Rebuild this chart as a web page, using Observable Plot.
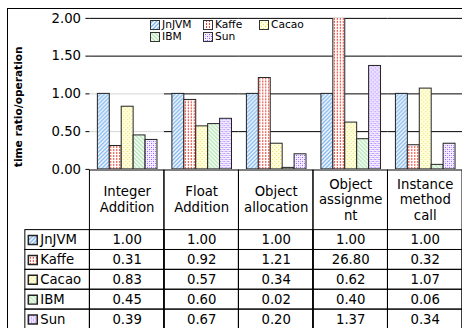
<!DOCTYPE html>
<html><head><meta charset="utf-8">
<script src="https://cdn.jsdelivr.net/npm/d3@7"></script>
<script src="https://cdn.jsdelivr.net/npm/@observablehq/plot@0.6"></script>
<style>
html,body{margin:0;padding:0;background:#fff;}
#root{position:relative;width:462px;height:328px;overflow:hidden;font-family:Verdana,"DejaVu Sans",sans-serif;color:#000;}
#border{position:absolute;left:7px;top:8px;width:520px;height:400px;border:1px solid #000;box-sizing:border-box;}
#chart{position:absolute;left:0;top:0;}
#table{position:absolute;left:0;top:170px;}
#legend{position:absolute;left:146px;top:19px;width:161px;height:26px;background:#fff;font-size:10.67px;line-height:12px;}
#legend .item{position:absolute;display:flex;align-items:center;height:12px;white-space:nowrap;}
#legend svg{margin-right:2px;}
svg text{fill:#000;}
</style></head>
<body><div id="root">
<svg width="0" height="0" style="position:absolute">
<defs>
<pattern id="p-jnjvm" patternUnits="userSpaceOnUse" width="4" height="4">
<rect width="4" height="4" fill="#fff"/>
<path d="M-1,1 l2,-2 M0,4 l4,-4 M3,5 l2,-2" stroke="#7db4ee" stroke-width="1.4"/>
</pattern>
<pattern id="p-kaffe" patternUnits="userSpaceOnUse" width="3" height="3">
<rect width="3" height="3" fill="#fff"/>
<rect x="0" y="0" width="1" height="2" fill="#f03a2a"/>
</pattern>
<pattern id="p-cacao" patternUnits="userSpaceOnUse" width="4" height="4">
<rect width="4" height="4" fill="#ffffdc"/>
<rect x="0" y="0" width="1" height="1" fill="#e9dc6a"/>
<rect x="2" y="2" width="1" height="1" fill="#e9dc6a"/>
</pattern>
<pattern id="p-ibm" patternUnits="userSpaceOnUse" width="4" height="4">
<rect width="4" height="4" fill="#fff"/>
<path d="M-1,3 l2,2 M0,0 l4,4 M3,-1 l2,2" stroke="#b4e6b4" stroke-width="1.4"/>
</pattern>
<pattern id="p-sun" patternUnits="userSpaceOnUse" width="4" height="4">
<rect width="4" height="4" fill="#f6f0ff"/>
<rect x="0" y="0" width="1" height="1" fill="#8c55ff"/>
<rect x="2" y="2" width="1" height="1" fill="#8c55ff"/>
<rect x="2" y="0" width="1" height="1" fill="#c6aaff"/>
<rect x="0" y="2" width="1" height="1" fill="#c6aaff"/>
</pattern>
</defs>
</svg>
<div id="border"></div>
<div id="chart"></div>
<div id="table"></div>
<div id="legend"></div>
</div>
<script>
const categories = ["Integer Addition", "Float Addition", "Object allocation", "Object assignment", "Instance method call"];
const categoryLabels = ["Integer\nAddition", "Float\nAddition", "Object\nallocation", "Object\nassignme\nnt", "Instance\nmethod\ncall"];
const series = ["JnJVM", "Kaffe", "Cacao", "IBM", "Sun"];
const jnjvm = [1.00, 1.00, 1.00, 1.00, 1.00];
const kaffe = [0.31, 0.92, 1.21, 26.80, 0.32];
const cacao = [0.83, 0.57, 0.34, 0.62, 1.07];
const ibm = [0.45, 0.60, 0.02, 0.40, 0.06];
const sun = [0.39, 0.67, 0.20, 1.37, 0.34];
const yTicks = [0, 0.5, 1, 1.5, 2];
const yTitle = "time ratio/operation";

const seriesValues = [jnjvm, kaffe, cacao, ibm, sun];
const patternOf = {JnJVM: "url(#p-jnjvm)", Kaffe: "url(#p-kaffe)", Cacao: "url(#p-cacao)", IBM: "url(#p-ibm)", Sun: "url(#p-sun)"};
const data = categories.flatMap((c, i) => series.map((s, j) => ({cat: c, series: s, value: seriesValues[j][i]})));
const grid = categories.flatMap((c, i) => yTicks.filter(t => t > 0).map(t => ({cat: c, t, light: i === 0 && t <= 1})));
const font = 'Verdana, "DejaVu Sans", sans-serif';

const chart = Plot.plot({
  width: 465, height: 171,
  marginTop: 18, marginRight: 0, marginBottom: 1, marginLeft: 90,
  fx: {domain: categories, padding: 0, axis: null, label: null},
  x: {domain: series, paddingInner: 0, paddingOuter: 0.625, axis: null},
  y: {domain: [0, 2], axis: null},
  color: {type: "identity"},
  style: {fontFamily: font, fontSize: "13.33px", color: "#000", background: "transparent", overflow: "visible"},
  marks: [
    Plot.ruleY(grid, {fx: "cat", y: "t", stroke: d => d.light ? "#d4d4d4" : "#000"}),
    Plot.barY(data, {fx: "cat", x: "series", y: "value", fill: d => patternOf[d.series], stroke: "#222", strokeWidth: 1, clip: true}),
    Plot.axisY({ticks: yTicks, tickFormat: d3.format(".2f"), tickSize: 4, tickPadding: 5, line: true, label: null, fontSize: 13.33}),
    Plot.text([{cat: categories[0], t: yTitle}], {fx: "cat", text: "t", frameAnchor: "left", textAnchor: "middle", rotate: -90, dx: -76, dy: 13, lineAnchor: "top", fontWeight: "bold", fontSize: 10.67})
  ]
});
document.getElementById("chart").appendChild(chart);

const table = Plot.plot({
  width: 465, height: 161,
  marginTop: 59, marginBottom: 0, marginLeft: 15, marginRight: 0,
  x: {domain: ["", ...categories], paddingInner: 0, paddingOuter: 0, axis: null},
  y: {domain: series, paddingInner: 0, paddingOuter: 0, axis: null},
  color: {type: "identity"},
  style: {fontFamily: font, fontSize: "13.33px", color: "#000", background: "transparent", overflow: "visible"},
  marks: [
    Plot.cell(categories, {x: d => d, fill: "none", stroke: "#000", insetTop: -59}),
    Plot.cell(data, {x: "cat", y: "series", fill: "none", stroke: "#000"}),
    Plot.cell(series, {x: () => "", y: d => d, fill: "none", stroke: "#000", insetLeft: 10}),
    Plot.text(categories, {x: d => d, text: (d, i) => categoryLabels[i], frameAnchor: "top", dy: -30, lineAnchor: "middle", lineHeight: 1.2}),
    Plot.text(data, {x: "cat", y: "series", text: d => d.value.toFixed(2)}),
    Plot.dot(series, {x: () => "", y: d => d, symbol: "square", r: 5.08, fill: d => patternOf[d], stroke: "#222", dx: -20}),
    Plot.text(series, {x: () => "", y: d => d, text: d => d, textAnchor: "start", dx: -12.5})
  ]
});
document.getElementById("table").appendChild(table);

// legend
const legend = document.getElementById("legend");
const legPos = [[4, 0], [57, 0], [113, 0], [4, 12], [57, 12]];
series.forEach((s, i) => {
  const item = document.createElement("div");
  item.className = "item";
  item.style.left = legPos[i][0] + "px";
  item.style.top = legPos[i][1] + "px";
  item.innerHTML = `<svg width="10" height="10"><rect x="0.5" y="0.5" width="9" height="9" fill="${patternOf[s]}" stroke="#333"/></svg><span>${s}</span>`;
  legend.appendChild(item);
});
</script></body></html>
